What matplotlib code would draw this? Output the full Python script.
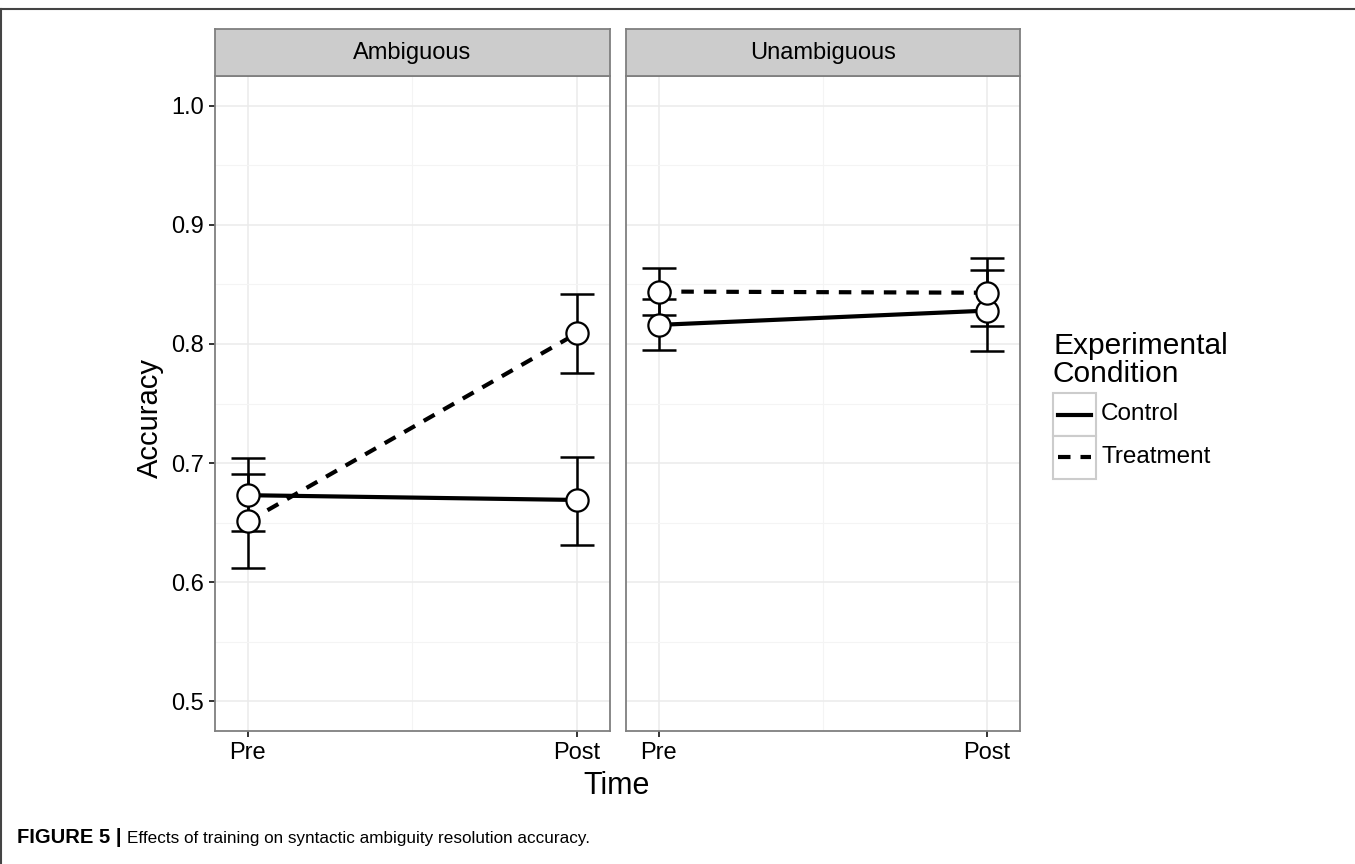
import numpy as np
import matplotlib
matplotlib.use('Agg')
import matplotlib.pyplot as plt
from matplotlib.lines import Line2D
from matplotlib.patches import Rectangle

plt.rcParams['font.family'] = ['Liberation Sans', 'DejaVu Sans']

#%% 데이터
times = ['Pre', 'Post']
panels = ['Ambiguous', 'Unambiguous']
conditions = ['Control', 'Treatment']

amb_control = [0.673, 0.669]
amb_control_lo = [0.643, 0.631]
amb_control_hi = [0.704, 0.705]
amb_treat = [0.651, 0.809]
amb_treat_lo = [0.612, 0.776]
amb_treat_hi = [0.691, 0.842]

unamb_control = [0.816, 0.828]
unamb_control_lo = [0.795, 0.794]
unamb_control_hi = [0.838, 0.862]
unamb_treat = [0.844, 0.843]
unamb_treat_lo = [0.824, 0.815]
unamb_treat_hi = [0.864, 0.872]

y_ticks = [0.5, 0.6, 0.7, 0.8, 0.9, 1.0]

panel_data = [
    [(amb_control, amb_control_lo, amb_control_hi), (amb_treat, amb_treat_lo, amb_treat_hi)],
    [(unamb_control, unamb_control_lo, unamb_control_hi), (unamb_treat, unamb_treat_lo, unamb_treat_hi)],
]
line_styles = ['-', '--']

#%% 그림
W, H = 1355, 864
fig = plt.figure(figsize=(W / 100, H / 100), dpi=100)

def px_box(x0, y0, x1, y1):
    return [x0 / W, 1 - y1 / H, (x1 - x0) / W, (y1 - y0) / H]

panel_x = [(215, 610), (626, 1020)]
x = np.arange(len(times))

for p, (x0, x1) in enumerate(panel_x):
    ax = fig.add_axes(px_box(x0, 76, x1, 731))
    ax.set_xlim(-0.1, 1.1)
    ax.set_ylim(0.475, 1.025)
    ax.set_yticks(y_ticks)
    ax.set_yticks([0.55, 0.65, 0.75, 0.85, 0.95], minor=True)
    ax.set_xticks(x)
    ax.set_xticks([0.5], minor=True)
    ax.set_xticklabels(times)
    ax.grid(which='major', color='#ebebeb', linewidth=1.1)
    ax.grid(which='minor', color='#f4f4f4', linewidth=0.8)
    ax.set_axisbelow(True)
    for s in ax.spines.values():
        s.set_color('#7f7f7f')
        s.set_linewidth(1.3)
    ax.tick_params(which='major', length=4, width=1.4, color='#333333', labelsize=17, pad=4)
    ax.tick_params(which='minor', length=0)
    if p == 0:
        ax.set_yticklabels(['%.1f' % v for v in y_ticks])
    else:
        ax.tick_params(axis='y', which='major', length=0, labelleft=False)

    for k, (mean, lo, hi) in enumerate(panel_data[p]):
        mean = np.array(mean)
        err = [mean - np.array(lo), np.array(hi) - mean]
        ln, = ax.plot(x, mean, color='black', linewidth=3, linestyle=line_styles[k], zorder=3)
        if k == 1:
            ln.set_dashes((3, 2.4))
        ax.errorbar(x, mean, yerr=err, fmt='none', ecolor='black', elinewidth=1.8,
                    capsize=12, capthick=1.8, zorder=4)
    for k, (mean, lo, hi) in enumerate(panel_data[p]):
        ax.plot(x, mean, 'o', markersize=16, markerfacecolor='white',
                markeredgecolor='black', markeredgewidth=1.6, zorder=5)

    # strip
    sax = fig.add_axes(px_box(x0, 29, x1, 76))
    sax.set_xticks([])
    sax.set_yticks([])
    sax.set_facecolor('#cccccc')
    for s in sax.spines.values():
        s.set_color('#7f7f7f')
        s.set_linewidth(1.3)
    sax.text(0.5, 0.5, panels[p], ha='center', va='center', fontsize=17, transform=sax.transAxes)

# 축 제목
fig.text(150 / W, 1 - 418 / H, 'Accuracy', rotation=90, ha='center', va='center', fontsize=21)
fig.text(617 / W, 1 - 786 / H, 'Time', ha='center', va='center', fontsize=22)

# 범례
fig.text(1053 / W, 1 - 382 / H, 'Experimental\nCondition', ha='left', va='baseline',
         fontsize=21.5, linespacing=1.0)
key_y = [393, 436, 479]
for k, cond in enumerate(conditions):
    fig.add_artist(Rectangle((1053 / W, 1 - key_y[k + 1] / H), 43 / W, (key_y[k + 1] - key_y[k]) / H,
                             transform=fig.transFigure, facecolor='white', edgecolor='#cccccc',
                             linewidth=1.5))
    yc = 1 - (key_y[k] + key_y[k + 1]) / 2 / H
    ln = Line2D([1058 / W, 1091 / W], [yc, yc], transform=fig.transFigure, color='black',
                linewidth=3, linestyle=line_styles[k])
    if k == 1:
        ln.set_dashes((3, 2.4))
    fig.add_artist(ln)
    fig.text(1101 / W, yc, cond, ha='left', va='center', fontsize=17.5)

# 외곽선
fig.add_artist(Line2D([0, 1], [1 - 8.5 / H, 1 - 8.5 / H], transform=fig.transFigure,
                      color='#444444', linewidth=1.5))
fig.add_artist(Line2D([0.8 / W, 0.8 / W], [0, 1 - 8.5 / H], transform=fig.transFigure,
                      color='#444444', linewidth=1.5))

# 캡션
fig.canvas.draw()
r = fig.canvas.get_renderer()
t1 = fig.text(17 / W, 1 - 843 / H, 'FIGURE 5 | ', fontsize=14.5, fontweight='bold',
              ha='left', va='baseline', family=['Liberation Sans Narrow', 'Liberation Sans'])
bb = t1.get_window_extent(renderer=r)
fig.text(bb.x1 / W, 1 - 843 / H, 'Effects of training on syntactic ambiguity resolution accuracy.',
         fontsize=12.3, ha='left', va='baseline', family=['Liberation Sans Narrow', 'Liberation Sans'])

plt.savefig('out.png', dpi=100)
